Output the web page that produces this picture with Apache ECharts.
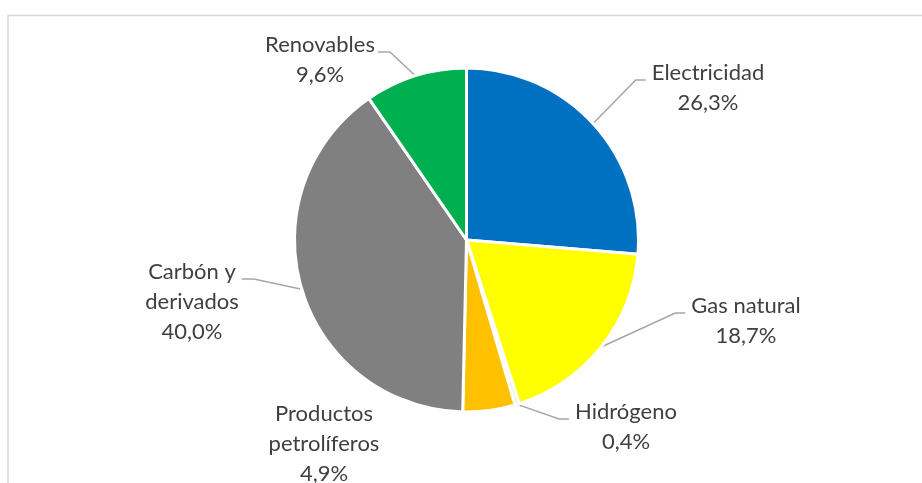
<!DOCTYPE html>
<html>
<head>
<meta charset="utf-8">
<script src="https://cdn.jsdelivr.net/npm/echarts@6/dist/echarts.min.js"></script>
<style>
  html, body { margin: 0; padding: 0; background: #ffffff; }
  #chart { width: 922px; height: 483px; }
</style>
</head>
<body>
<div id="chart"></div>
<script>
// Final energy consumption by source (share, %)
const categories = ['Electricidad', 'Gas natural', 'Hidrógeno', 'Productos\npetrolíferos', 'Carbón y\nderivados', 'Renovables'];
const shares = [26.3, 18.7, 0.4, 4.9, 40.0, 9.6];
const sliceColors = ['#0070C0', '#FFFF00', '#E2EFDA', '#FFC000', '#808080', '#00B050'];

// Where each label sits: centre x, top of the text block, and which side the leader line comes from
const labelPlacement = [
  { x: 708, y: 58, side: 'right' },
  { x: 746, y: 291, side: 'right' },
  { x: 626, y: 397, side: 'right' },
  { x: 324, y: 399, side: 'none' },
  { x: 192, y: 257, side: 'left' },
  { x: 320, y: 30, side: 'left' }
];

const LINE_H = 30;

const fmtPct = v => v.toFixed(1).replace('.', ',') + '%';

const pieData = categories.map((name, i) => ({
  name: name,
  value: shares[i],
  itemStyle: { color: sliceColors[i] },
  labelLine: { show: labelPlacement[i].side !== 'none' }
}));

const chart = echarts.init(document.getElementById('chart'), null, { renderer: 'canvas' });

chart.setOption({
  animation: false,
  backgroundColor: '#ffffff',
  graphic: [{
    type: 'rect',
    silent: true,
    shape: { x: 8, y: 15.5, width: 918, height: 490 },
    style: { fill: 'none', stroke: '#D9D9D9', lineWidth: 1.5 }
  }],
  series: [{
    type: 'pie',
    center: [466.5, 240],
    radius: 172,
    startAngle: 90,
    clockwise: true,
    avoidLabelOverlap: false,
    itemStyle: { borderColor: '#ffffff', borderWidth: 3 },
    label: {
      show: true,
      position: 'outside',
      formatter: p => p.name + '\n' + fmtPct(p.value),
      fontFamily: 'Lato',
      fontSize: 22,
      lineHeight: LINE_H,
      color: '#404040',
      align: 'center'
    },
    labelLine: {
      show: true,
      length: 20,
      length2: 10,
      lineStyle: { color: '#A6A6A6', width: 1.5 }
    },
    labelLayout: params => {
      const pl = labelPlacement[params.dataIndex];
      const w = params.labelRect.width;
      const out = { x: pl.x, y: pl.y, align: 'center', verticalAlign: 'top' };
      const pts = params.labelLinePoints;
      if (pts && pl.side !== 'none') {
        const yy = pl.y + 22;
        let end, elbow;
        if (pl.side === 'right') {
          end = [pl.x - w / 2 - 6, yy];
          elbow = [end[0] - 10, yy];
        } else {
          end = [pl.x + w / 2 + 3, yy];
          elbow = [end[0] + 12, yy];
        }
        out.labelLinePoints = [pts[0], elbow, end];
      }
      return out;
    },
    data: pieData
  }]
});
</script>
</body>
</html>
